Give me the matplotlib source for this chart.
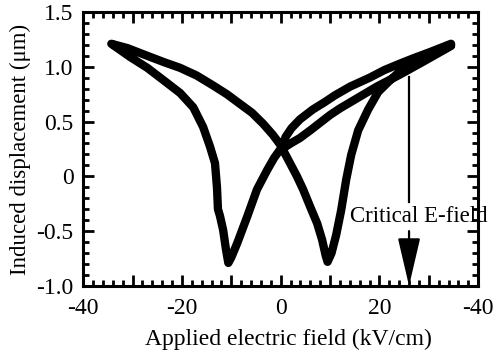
import matplotlib
matplotlib.use("Agg")
import matplotlib.pyplot as plt
from matplotlib.ticker import MultipleLocator, FixedLocator

plt.rcParams["font.family"] = ["Liberation Serif", "DejaVu Serif"]
plt.rcParams["axes.unicode_minus"] = False

# butterfly loop, traced in the order the field was swept (kV/cm, um)
# first rise from zero field
virgin_e = [0.3, 2.0, 3.9, 6.0, 8.0, 10.0, 12.0, 15.0, 19.5, 24.2, 29.0, 34.5]
virgin_d = [0.25, 0.30, 0.35, 0.42, 0.49, 0.56, 0.62, 0.70, 0.82, 0.93, 1.05, 1.19]
# +Emax down to the negative coercive field
down_e = [34.5, 30.0, 27.0, 24.2, 21.0, 18.0, 14.1, 11.0, 9.0, 6.5, 3.9, 2.2, 1.0, 0.3,
          -1.3, -2.7, -4.8, -6.8, -8.8, -10.0, -10.6]
down_d = [1.21, 1.13, 1.08, 1.03, 0.97, 0.90, 0.82, 0.74, 0.68, 0.61, 0.52, 0.44, 0.36, 0.27,
          0.17, 0.06, -0.12, -0.37, -0.61, -0.74, -0.79]
# switching up to -Emax
neg_up_e = [-11.1, -11.65, -12.3, -12.7, -12.9, -13.3, -14.3, -15.7, -17.7, -20.35,
            -23.8, -27.0, -30.5, -34.3]
neg_up_d = [-0.66, -0.49, -0.36, -0.30, -0.10, 0.12, 0.27, 0.45, 0.63, 0.76,
            0.88, 0.99, 1.09, 1.21]
# -Emax back through zero to the positive coercive field
up_e = [-31.0, -27.0, -23.5, -20.35, -17.0, -13.7, -10.9, -8.2, -5.8, -3.55, -1.6, -0.1,
        1.9, 3.3, 4.55, 6.0, 7.4, 8.4, 9.1, 9.5]
up_d = [1.17, 1.10, 1.04, 0.99, 0.92, 0.83, 0.75, 0.66, 0.58, 0.48, 0.38, 0.29,
        0.12, 0.0, -0.12, -0.28, -0.43, -0.58, -0.72, -0.78]
# switching up to +Emax
pos_up_e = [10.3, 11.24, 12.25, 13.27, 14.28, 15.7, 17.72, 19.75, 22.0, 24.2, 27.0, 30.0, 34.5]
pos_up_d = [-0.70, -0.535, -0.31, -0.03, 0.195, 0.42, 0.61, 0.77, 0.87, 0.96, 1.03, 1.10, 1.20]

x_tick_labels = ["-40", "", "-20", "", "0", "", "20", "", "-40"]
y_ticks = [-1.0, -0.5, 0.0, 0.5, 1.0, 1.5]
y_tick_labels = ["-1.0", "-0.5", "0", "0.5", "1.0", "1.5"]

critical_field = 26.0

field = virgin_e + down_e + neg_up_e + up_e + pos_up_e
displacement = virgin_d + down_d + neg_up_d + up_d + pos_up_d

fig = plt.figure(figsize=(4.95, 3.53), dpi=100)
ax = fig.add_axes([0.168, 0.19, 0.798, 0.776])

ax.plot(field, displacement, color="black", lw=6,
        solid_joinstyle="round", solid_capstyle="round")

# critical field marker: thin line from the loop, label, arrow to the axis
ax.plot([critical_field, critical_field], [0.91, -0.23], color="black", lw=1.6)
ax.text(critical_field + 2, -0.37, "Critical E-field", ha="center", va="center",
        fontsize=16.5, clip_on=False)
ax.annotate("", xy=(critical_field, -1.0), xytext=(critical_field, -0.5),
            arrowprops=dict(arrowstyle="-|>,head_length=3.0,head_width=0.7",
                            mutation_scale=10, color="black", lw=1.6,
                            shrinkA=0, shrinkB=0))

ax.set_xlim(-40, 40)
ax.set_ylim(-1.0, 1.5)
ax.xaxis.set_major_locator(FixedLocator([-40, -30, -20, -10, 0, 10, 20, 30, 40]))
ax.set_xticklabels(x_tick_labels)
ax.xaxis.set_minor_locator(MultipleLocator(2))
ax.set_yticks(y_ticks, y_tick_labels)
ax.yaxis.set_minor_locator(MultipleLocator(0.1))

ax.tick_params(which="both", direction="in", top=True, right=True,
               labelsize=17, width=2)
ax.tick_params(which="major", length=8)
ax.tick_params(axis="x", which="major", pad=9)
ax.tick_params(axis="y", which="major", pad=7)
ax.tick_params(which="minor", length=4)
for s in ax.spines.values():
    s.set_linewidth(2.2)

ax.set_xlabel("Applied electric field (kV/cm)", fontsize=17)
ax.xaxis.set_label_coords(0.52, -0.155)
ax.set_ylabel("Induced displacement (\u03bcm)", fontsize=16.5, labelpad=4)

fig.savefig("out.png", dpi=100)
